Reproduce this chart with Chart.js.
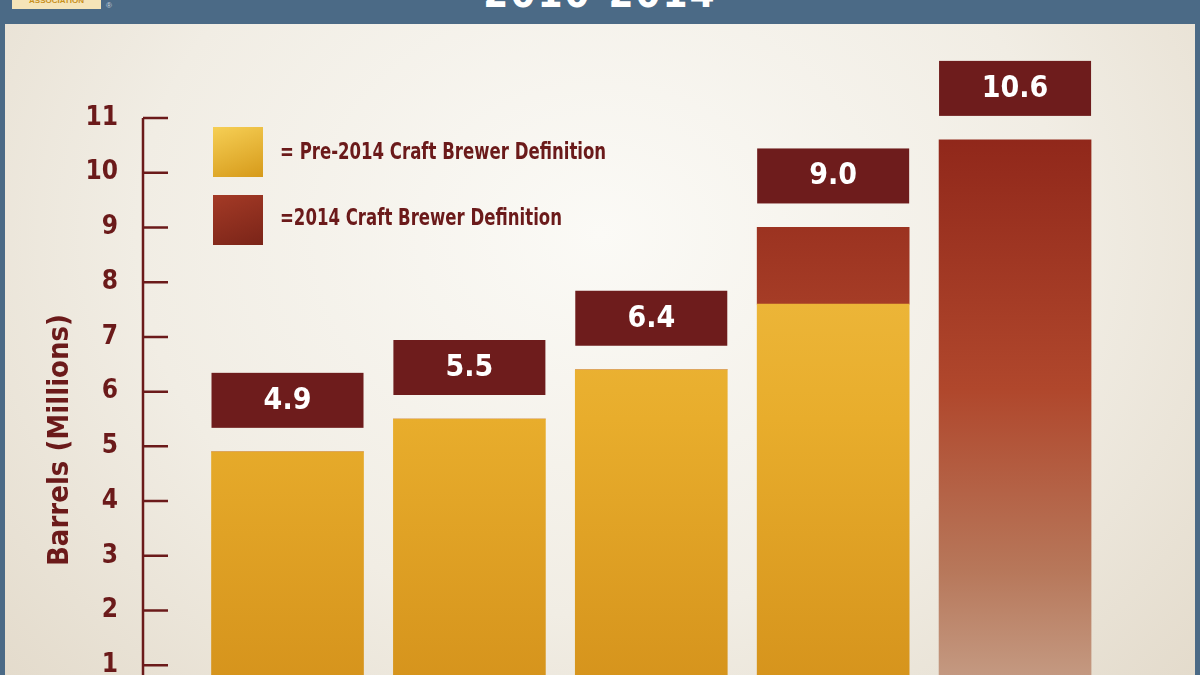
<!DOCTYPE html>
<html>
<head>
<meta charset="utf-8">
<script src="https://cdn.jsdelivr.net/npm/chart.js@4"></script>
<style>
  body { margin: 0; width: 1200px; height: 675px; overflow: hidden; background: #4b6a86; position: relative; font-family: 'DejaVu Sans Condensed', sans-serif; }
  #panel { position: absolute; left: 5px; right: 5px; top: 24px; height: 700px;
    background: radial-gradient(ellipse at 50% 30%, #fbfaf6 0%, #f1ede4 55%, #e2d9c9 100%); overflow: hidden; }
  #wrap { position: absolute; left: -5px; top: -24px; width: 1200px; height: 760px; }
  #head { position: absolute; left: 0; top: -30px; width: 1200px; text-align: center; color: #fff; font: bold 40px 'DejaVu Sans Condensed', sans-serif; letter-spacing: 2px; }
  #logo { position: absolute; left: 12px; top: 0; width: 89px; height: 9px; background: #f5e4b8; color: #c8901c; font: bold 8px sans-serif; text-align: center; line-height: 2px; overflow: hidden; }
  #reg { position: absolute; left: 106px; top: 1px; color: #c9d4de; font: 8px sans-serif; }
  .lg { position: absolute; left: 213px; width: 50px; height: 50px; }
  .lt { position: absolute; color: #6b1a1a; font: bold 23px 'DejaVu Sans Condensed', sans-serif; transform: scaleX(0.8); transform-origin: left; white-space: nowrap; }
</style>
</head>
<body>
<div id="head">2010-2014</div>
<div id="logo">ASSOCIATION</div>
<div id="reg">®</div>
<div id="panel">
  <div id="wrap"><canvas id="c" width="1200" height="760"></canvas></div>
</div>
<div class="lg" style="top:127px;background:linear-gradient(160deg,#f6cf55,#d69a1a)"></div>
<div class="lt" style="left:280px;top:138px">= Pre-2014 Craft Brewer Definition</div>
<div class="lg" style="top:195px;background:linear-gradient(160deg,#a43a26,#7a2418)"></div>
<div class="lt" style="left:280px;top:204px">=2014 Craft Brewer Definition</div>
<script>
const years = ['2010', '2011', '2012', '2013', '2014'];
const totals = [4.9, 5.5, 6.4, 9.0, 10.6];
const preDefinition = [4.9, 5.5, 6.4, 7.6, 0];
const newDefinition = [0, 0, 0, 1.4, 10.6];
const yTicks = [1, 2, 3, 4, 5, 6, 7, 8, 9, 10, 11];

const maroon = '#6b1a1a';
const condensed = "'DejaVu Sans Condensed', sans-serif";

function goldFill(ctx) {
  const a = ctx.chart.chartArea;
  if (!a) return '#e0a52a';
  const g = ctx.chart.ctx.createLinearGradient(0, a.top, 0, a.bottom);
  g.addColorStop(0, '#f2c24a');
  g.addColorStop(0.5, '#e8ad2c');
  g.addColorStop(1, '#d3901a');
  return g;
}
function redFill(ctx) {
  const a = ctx.chart.chartArea;
  if (!a) return '#9a3424';
  const g = ctx.chart.ctx.createLinearGradient(0, a.top, 0, a.bottom);
  g.addColorStop(0, '#8e2519');
  g.addColorStop(0.45, '#b0472c');
  g.addColorStop(0.75, '#b7775a');
  g.addColorStop(1, '#c9a791');
  return g;
}

const axisPlugin = {
  id: 'axisPlugin',
  afterDraw(chart) {
    const c = chart.ctx, y = chart.scales.y, x = chart.scales.x;
    const left = chart.chartArea.left + 1;
    c.save();
    c.strokeStyle = maroon;
    c.lineWidth = 2.5;
    c.beginPath();
    c.moveTo(left, y.getPixelForValue(11));
    c.lineTo(left, chart.chartArea.bottom);
    yTicks.forEach(v => {
      const p = y.getPixelForValue(v);
      c.moveTo(left, p);
      c.lineTo(left + 25, p);
    });
    c.stroke();
    // axis title
    c.save();
    c.translate(60, 440);
    c.rotate(-Math.PI / 2);
    c.fillStyle = maroon;
    c.font = 'bold 29px ' + condensed;
    c.textAlign = 'center';
    c.textBaseline = 'middle';
    c.fillText('Barrels (Millions)', 0, 0);
    c.restore();
    // value boxes
    totals.forEach((v, i) => {
      const cx = x.getPixelForValue(i);
      const top = y.getPixelForValue(v);
      c.fillStyle = '#6e1c1c';
      c.fillRect(cx - 76, top - 79, 152, 55);
      c.fillStyle = '#fff';
      c.font = 'bold 30px ' + condensed;
      c.textAlign = 'center';
      c.textBaseline = 'middle';
      c.fillText(v.toFixed(1), cx, top - 51);
    });
    c.restore();
  }
};

new Chart(document.getElementById('c'), {
  type: 'bar',
  data: {
    datasets: [
      { label: 'Pre-2014', data: preDefinition.map((v, i) => ({ x: i, y: v })), backgroundColor: goldFill, barThickness: 152 },
      { label: '2014', data: newDefinition.map((v, i) => ({ x: i, y: v })), backgroundColor: redFill, barThickness: 152 }
    ]
  },
  options: {
    responsive: false,
    animation: false,
    layout: { padding: { top: 118, bottom: 40, right: 94, left: 0 } },
    plugins: { legend: { display: false }, tooltip: { enabled: false } },
    scales: {
      x: { type: 'linear', stacked: true, offset: false, min: -0.8, max: 4.5, display: false },
      y: {
        stacked: true, min: 0, max: 11,
        afterFit: s => { s.width = 142; },
        afterBuildTicks: s => { s.ticks = yTicks.map(v => ({ value: v })); },
        grid: { display: false },
        border: { display: false },
        ticks: { color: maroon, padding: 16, font: { family: condensed, size: 26, weight: 'bold' } }
      }
    }
  },
  plugins: [axisPlugin]
});
</script>
</body>
</html>
